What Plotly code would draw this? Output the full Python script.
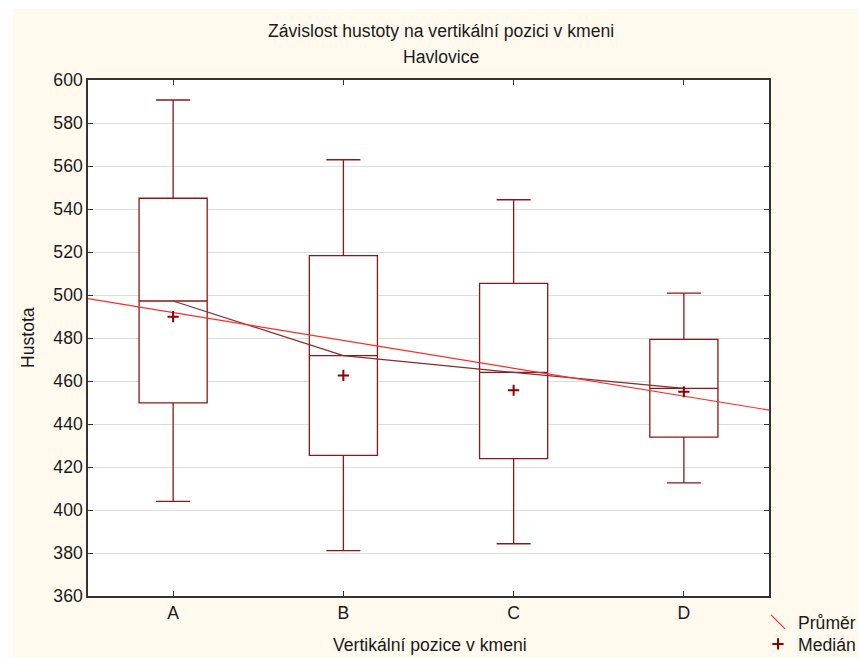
import numpy as np
import plotly.graph_objects as go

categories = ["A", "B", "C", "D"]
positions = [0, 1, 2, 3]
upper_whisker = [590.7, 562.9, 544.3, 500.9]
box_top = [545.0, 518.3, 505.4, 479.4]
mean_vals = [497.2, 471.8, 464.0, 456.6]
median_vals = [489.9, 462.6, 455.7, 455.0]
box_bottom = [449.8, 425.4, 423.9, 433.9]
lower_whisker = [404.0, 381.1, 384.3, 412.6]

title_line1 = "Závislost hustoty na vertikální pozici v kmeni"
title_line2 = "Havlovice"
x_title = "Vertikální pozice v kmeni"
y_title = "Hustota"

BOX = "#8E1616"
MEANLINE = "#8B2A2A"
REG = "#FF2A2A"
CREAM = "#FFF9EE"
FONT = "Liberation Sans"
FS = 17.6

x_range = [-0.5, 3.5]
slope, intercept = np.polyfit(positions, mean_vals, 1)
reg_x = np.array(x_range)
reg_y = slope * reg_x + intercept

fig = go.Figure()

fig.add_trace(go.Box(
    x=positions, q1=box_bottom, median=mean_vals, q3=box_top,
    lowerfence=lower_whisker, upperfence=upper_whisker,
    width=0.4, whiskerwidth=0.5, boxpoints=False,
    fillcolor="white", line=dict(color=BOX, width=1.3),
    showlegend=False, hoverinfo="skip",
))

fig.add_trace(go.Scatter(
    x=positions, y=mean_vals, mode="lines",
    line=dict(color=MEANLINE, width=1.2), showlegend=False, hoverinfo="skip",
))

fig.add_trace(go.Scatter(
    x=reg_x, y=reg_y, mode="lines",
    line=dict(color=REG, width=1.2), showlegend=False, hoverinfo="skip",
))

fig.add_trace(go.Scatter(
    x=[None], y=[None], mode="markers", name="Průměr", legend="legend",
    marker=dict(symbol="line-nw", size=14, color=REG, line=dict(color=REG, width=1.2)),
))

fig.add_trace(go.Scatter(
    x=positions, y=median_vals, mode="markers", name="Medián", legend="legend2",
    marker=dict(symbol="cross-thin", size=8, color="#8B0000", line=dict(color="#8B0000", width=2)),
))

W, H = 859, 658
PL, PT, PR, PB = 88, 80, 769, 596  # plot area in page pixels
L, T = PL, PT
pw, ph = PR - PL, PB - PT
R = W - L - pw
B = H - T - ph

def px(xp):
    return (xp - PL) / pw

def py(yp):
    return (PB - yp) / ph

legend_style = dict(xref="paper", yref="paper", xanchor="left", yanchor="top",
                    bgcolor="rgba(0,0,0,0)", font=dict(size=FS), itemwidth=30)

fig.update_layout(
    width=W, height=H,
    margin=dict(l=L, r=R, t=T, b=B, pad=0, autoexpand=False),
    paper_bgcolor=CREAM, plot_bgcolor="white",
    font=dict(family=FONT, size=FS, color="#1a1a1a"),
    showlegend=True,
    legend=dict(x=px(758), y=py(604), **legend_style),
    legend2=dict(x=px(758), y=py(626), **legend_style),
    xaxis=dict(range=x_range, tickvals=positions, ticktext=categories,
               showgrid=False, zeroline=False, showline=True, linecolor="#333333",
               linewidth=1.5, mirror="ticks", ticks="inside", ticklen=5,
               tickcolor="#333333", tickfont=dict(size=FS), automargin=False),
    yaxis=dict(range=[360, 600], dtick=20, tick0=360,
               showgrid=True, gridcolor="#DDDDDD", gridwidth=1, zeroline=False,
               showline=True, linecolor="#333333", linewidth=1.5, mirror="ticks",
               ticks="inside", ticklen=5, tickcolor="#333333", tickfont=dict(size=FS),
               automargin=False),
    shapes=[
        dict(type="rect", xref="paper", yref="paper", x0=px(0), x1=px(W),
             y0=py(0), y1=py(9), fillcolor="white", line=dict(width=0), layer="below"),
        dict(type="rect", xref="paper", yref="paper", x0=px(0), x1=px(13),
             y0=py(0), y1=py(H), fillcolor="white", line=dict(width=0), layer="below"),
    ],
    annotations=[
        dict(text=title_line1, xref="paper", yref="paper", x=px(441), y=py(31),
             xanchor="center", yanchor="middle", showarrow=False, font=dict(size=FS)),
        dict(text=title_line2, xref="paper", yref="paper", x=px(441), y=py(57),
             xanchor="center", yanchor="middle", showarrow=False, font=dict(size=FS)),
        dict(text=x_title, xref="paper", yref="paper", x=px(430), y=py(645),
             xanchor="center", yanchor="middle", showarrow=False, font=dict(size=FS)),
        dict(text=y_title, xref="paper", yref="paper", x=px(28), y=py(338),
             xanchor="center", yanchor="middle", showarrow=False, textangle=-90,
             font=dict(size=FS)),
    ],
)

fig.write_html(
    "out.html",
    config={"displayModeBar": False},
    post_script="document.body.style.margin='0';document.body.style.overflow='hidden';",
)
